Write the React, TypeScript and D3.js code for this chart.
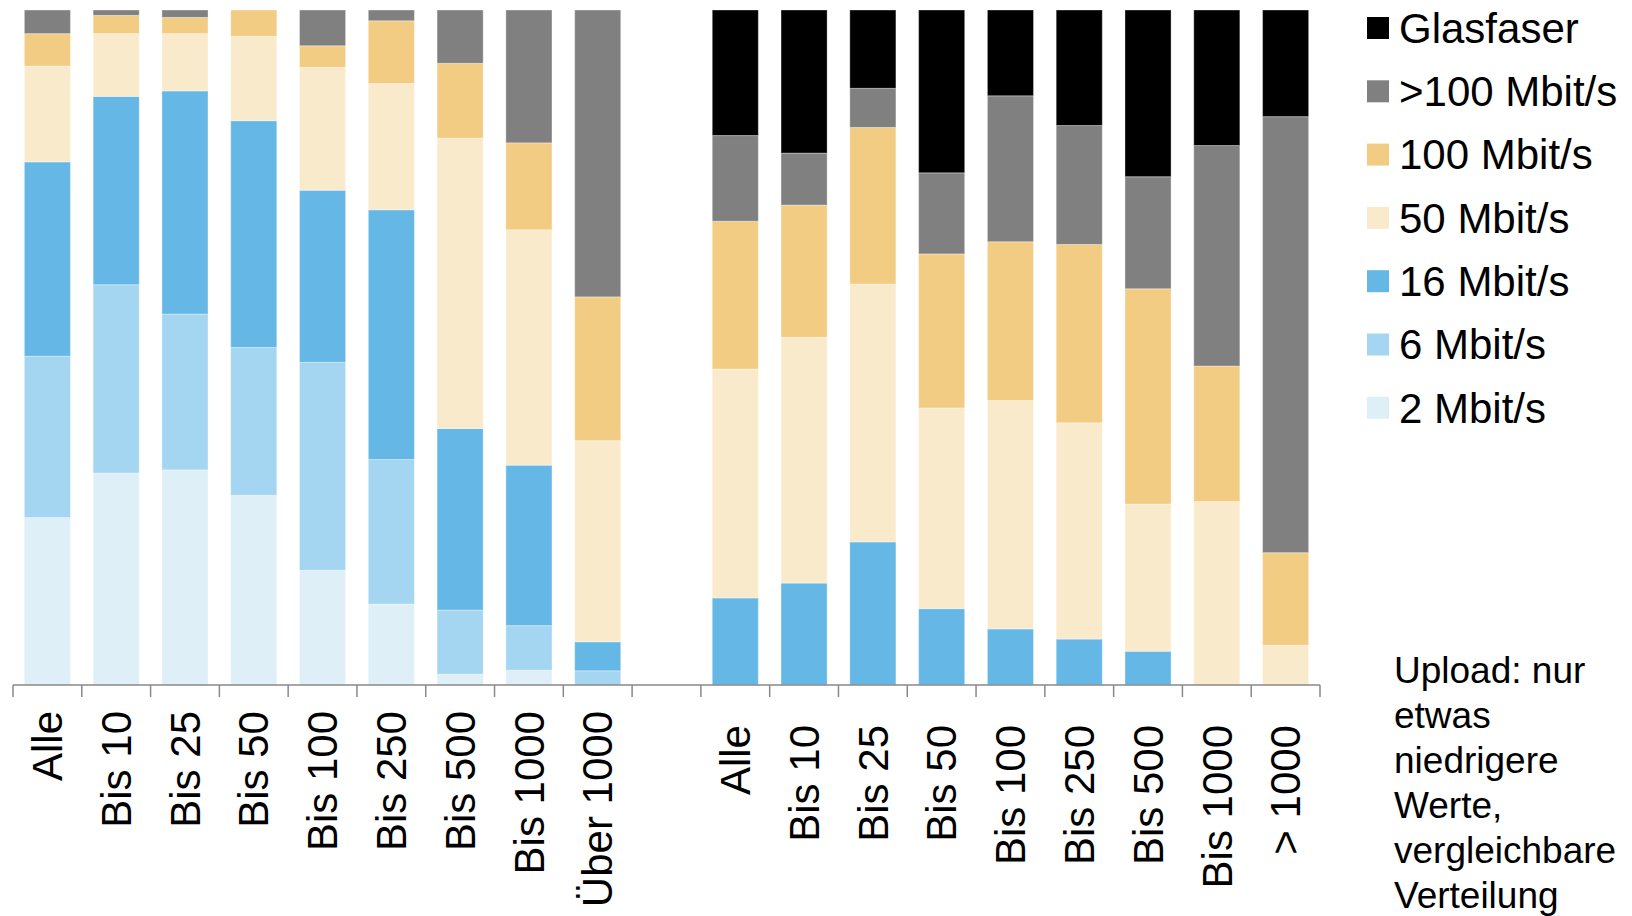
import * as d3 from 'd3';

// categories: 9 download bars, an empty slot, 9 more bars
const labels = ['Alle', 'Bis 10', 'Bis 25', 'Bis 50', 'Bis 100', 'Bis 250', 'Bis 500', 'Bis 1000', 'Über 1000', '',
  'Alle', 'Bis 10', 'Bis 25', 'Bis 50', 'Bis 100', 'Bis 250', 'Bis 500', 'Bis 1000', '> 1000'];

// shares in percent, stacked bottom-up
const mbit2 = [24.8, 31.4, 31.9, 28.1, 17.0, 12.0, 1.6, 2.2, 0, 0, 0, 0, 0, 0, 0, 0, 0, 0, 0];
const mbit6 = [23.9, 27.9, 23.1, 21.9, 30.8, 21.4, 9.5, 6.6, 2.1, 0, 0, 0, 0, 0, 0, 0, 0, 0, 0];
const mbit16 = [28.8, 27.9, 33.1, 33.6, 25.5, 37.0, 26.9, 23.8, 4.3, 0, 12.9, 15.1, 21.2, 11.3, 8.3, 6.8, 5.0, 0, 0];
const mbit50 = [14.2, 9.3, 8.5, 12.5, 18.2, 18.7, 43.0, 34.9, 29.8, 0, 33.9, 36.4, 38.2, 29.7, 33.8, 32.0, 21.8, 27.2, 5.9];
const mbit100 = [4.8, 2.7, 2.4, 3.9, 3.2, 9.3, 11.1, 12.9, 21.3, 0, 21.9, 19.6, 23.2, 22.8, 23.5, 26.4, 31.9, 20.1, 13.7];
const over100 = [3.5, 0.8, 1.1, 0, 5.3, 1.6, 7.9, 19.7, 42.5, 0, 12.7, 7.7, 5.8, 12.0, 21.6, 17.6, 16.6, 32.7, 64.6];
const glasfaser = [0, 0, 0, 0, 0, 0, 0, 0, 0, 0, 18.6, 21.2, 11.6, 24.1, 12.7, 17.1, 24.7, 20.1, 15.8];

const seriesNames = ['2 Mbit/s', '6 Mbit/s', '16 Mbit/s', '50 Mbit/s', '100 Mbit/s', '>100 Mbit/s', 'Glasfaser'];
const seriesValues = [mbit2, mbit6, mbit16, mbit50, mbit100, over100, glasfaser];
const seriesColors = ['#dfeff8', '#a4d5f1', '#65b8e5', '#faeacc', '#f3cc83', '#808080', '#000000'];

const note = ['Upload: nur', 'etwas', 'niedrigere', 'Werte,', 'vergleichbare', 'Verteilung'];

const W = 1632, H = 916;
const FONT = '"Liberation Sans", Arial, sans-serif';

export default function App() {
  const rows = labels.map((_, i) => {
    const r: Record<string, number> = { i };
    seriesNames.forEach((n, k) => { r[n] = seriesValues[k][i]; });
    return r;
  });
  const stacked = d3.stack<Record<string, number>>().keys(seriesNames).offset(d3.stackOffsetExpand)(rows);

  const x = d3.scaleBand<number>().domain(d3.range(labels.length)).range([13, 1320]).paddingInner(0.33).paddingOuter(0.165);
  const y = d3.scaleLinear().domain([0, 1]).range([685, 10]);
  const step = x.step();
  const x0 = x.range()[0];
  const ticks = d3.range(labels.length + 1).map((k) => x0 + k * step);

  const legendItems = seriesNames.map((n, k) => ({ n, c: seriesColors[k] })).reverse();

  return (
    <svg width={W} height={H} style={{ position: 'absolute', left: 0, top: 0, background: '#fff' }} fontFamily={FONT}>
      {stacked.map((s, k) => (
        <g key={s.key} fill={seriesColors[k]}>
          {s.map((d, i) => {
            const h = y(d[0]) - y(d[1]);
            if (!(h > 0)) return null;
            return <rect key={i} x={x(i)} y={y(d[1])} width={x.bandwidth()} height={h}
              stroke="#fff" strokeOpacity={0.35} strokeWidth={1} />;
          })}
        </g>
      ))}
      <line x1={x0} x2={x0 + labels.length * step} y1={685} y2={685} stroke="#898989" strokeWidth={1.5} />
      {ticks.map((t, k) => <line key={k} x1={t} x2={t} y1={685} y2={697} stroke="#898989" strokeWidth={1.5} />)}
      {labels.map((l, i) => {
        const cx = (x(i) ?? 0) + x.bandwidth() / 2;
        const ty = i < 9 ? 711 : 725;
        return <text key={i} x={cx} y={ty} dy="0.35em" textAnchor="end" fontSize={42}
          transform={`rotate(-90,${cx},${ty})`} fill="#000">{l}</text>;
      })}
      {legendItems.map((it, k) => {
        const cy = 28 + k * 63.3;
        return (
          <g key={it.n}>
            <rect x={1367} y={cy - 11} width={22} height={22} fill={it.c} />
            <text x={1399} y={cy + 14.7} fontSize={42} fill="#000">{it.n}</text>
          </g>
        );
      })}
      <text x={1394} fontSize={37} fill="#000">
        {note.map((t, k) => <tspan key={k} x={1394} y={683 + k * 45}>{t}</tspan>)}
      </text>
    </svg>
  );
}
